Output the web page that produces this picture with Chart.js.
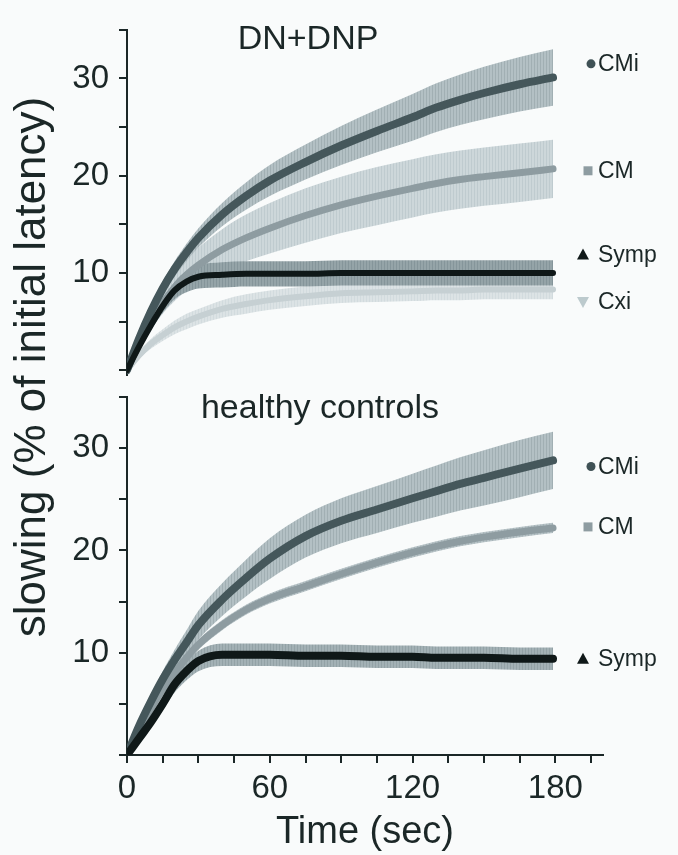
<!DOCTYPE html>
<html><head><meta charset="utf-8">
<script src="https://cdn.jsdelivr.net/npm/chart.js@4.4.1/dist/chart.umd.min.js"></script>
<style>
html,body{margin:0;padding:0;background:#f9fbfb;}
#wrap{position:relative;width:678px;height:855px;overflow:hidden;}
canvas{position:absolute;left:0;top:0;}
</style></head><body>
<div id="wrap"><canvas id="cTop" width="678" height="855"></canvas><canvas id="cBot" width="678" height="855"></canvas></div>
<script>
// ---------- data (seconds, % slowing) ----------
const time = [0,5,10,15,20,25,30,40,50,60,75,90,105,120,130,140,150,165,179];

// DN+DNP panel
const dnCMi    = [0,3.2,6.0,8.4,10.4,12.1,13.6,16.0,17.9,19.5,21.4,23.1,24.6,26.0,27.0,27.8,28.5,29.4,30.1];
const dnCMiSD  = [0,0.3,0.5,0.7,0.8,0.9,1.0,1.2,1.4,1.6,1.8,2.0,2.2,2.4,2.5,2.6,2.7,2.8,2.9];
const dnCM     = [0,2.7,5.0,6.9,8.5,9.8,10.8,12.4,13.6,14.6,15.9,17.0,17.9,18.7,19.2,19.6,19.9,20.3,20.7];
const dnCMSD   = [0,0.4,0.8,1.1,1.4,1.6,1.8,2.1,2.4,2.6,2.8,2.9,3.0,3.0,3.0,3.0,3.0,3.0,3.0];
const dnSymp   = [0,2.4,4.6,6.6,8.2,9.1,9.6,9.8,9.9,9.9,9.9,10.0,10.0,10.0,10.0,10.0,10.0,10.0,10.0];
const dnSympSD = [0,0.3,0.5,0.7,0.9,1.1,1.2,1.3,1.3,1.3,1.3,1.3,1.3,1.3,1.3,1.3,1.3,1.3,1.3];
const dnCxi    = [0,1.5,2.7,3.6,4.4,5.0,5.5,6.3,6.8,7.2,7.6,7.9,8.0,8.1,8.2,8.2,8.3,8.3,8.3];
const dnCxiSD  = [0,0.3,0.5,0.6,0.7,0.8,0.8,0.9,1.0,1.0,1.0,1.0,1.0,1.0,1.0,1.0,1.0,1.0,1.0];

// healthy controls panel
const hcCMi    = [0,2.8,5.2,7.4,9.3,11.0,12.7,15.2,17.3,19.2,21.4,22.9,24.0,25.1,25.8,26.5,27.1,28.0,28.8];
const hcCMiSD  = [0,0.3,0.6,0.8,1.0,1.2,1.4,1.6,1.8,2.0,2.1,2.2,2.3,2.4,2.5,2.6,2.7,2.8,2.8];
const hcCM     = [0,2.4,4.5,6.4,8.0,9.5,10.8,12.7,14.2,15.3,16.5,17.7,18.8,19.8,20.4,20.9,21.3,21.8,22.2];
const hcCMSD   = [0,0.2,0.3,0.4,0.4,0.5,0.5,0.5,0.5,0.5,0.5,0.5,0.5,0.5,0.5,0.5,0.5,0.5,0.5];
const hcSymp   = [0,1.6,3.2,5.0,6.9,8.2,9.2,9.8,9.8,9.8,9.7,9.7,9.6,9.6,9.5,9.5,9.5,9.4,9.4];
const hcSympSD = [0,0.2,0.4,0.6,0.8,0.9,1.0,1.1,1.1,1.1,1.1,1.1,1.1,1.1,1.1,1.1,1.1,1.1,1.1];

// axis ticks
const yTicks = [0,2.5,5,7.5,10,12.5,15,17.5,20,22.5,25,27.5,30,32.5,35];
const yLabels = [10,20,30];
const xTicks = [0,15,30,45,60,75,90,105,120,135,150,165,180,195];
const xLabels = [0,60,120,180];

// panel texts / legend entries
const topTitle = 'DN+DNP';
const botTitle = 'healthy controls';
const yTitle = 'slowing (% of initial latency)';
const xTitle = 'Time (sec)';
const topLegend = [
  {text:'CMi', at:31.5, marker:'circle'},
  {text:'CM', at:20.5, marker:'square'},
  {text:'Symp', at:11.9, marker:'triUp'},
  {text:'Cxi', at:7.0, marker:'triDown'}
];
const botLegend = [
  {text:'CMi', at:28.2, marker:'circle'},
  {text:'CM', at:22.3, marker:'square'},
  {text:'Symp', at:9.4, marker:'triUp'}
];

// ---------- styles ----------
const INK = '#1b2727';
const FONT = "'Liberation Sans', Arial, sans-serif";

function hatch(base, dark){
  const c = document.createElement('canvas');
  c.width = 3; c.height = 4;
  const g = c.getContext('2d');
  g.fillStyle = base; g.fillRect(0,0,3,4);
  g.fillStyle = dark; g.fillRect(0,0,1,4);
  return g.createPattern(c, 'repeat');
}

const ST = {
  CMi:  {line:'#45575b', band:hatch('#b3c0c4','#a1afb3'), w:8, bandOrder:20, lineOrder:3, mark:'#3f5155'},
  CM:   {line:'#8e9ca1', band:hatch('#cdd7da','#bfcbcf'), w:7, bandOrder:22, lineOrder:4, mark:'#8e9ca1'},
  CMh:  {line:'#8e9ca1', band:hatch('#b6c2c6','#a8b5b9'), w:7, bandOrder:22, lineOrder:4, mark:'#8e9ca1'},
  Symp: {line:'#0f1818', band:hatch('#95a4a8','#85959a'), w:6, bandOrder:16, lineOrder:1, mark:'#0f1818'},
  Symph:{line:'#0f1818', band:hatch('#a3b1b5','#93a2a6'), w:8, bandOrder:16, lineOrder:1, mark:'#0f1818'},
  Cxi:  {line:'#c6d0d3', band:hatch('#dce3e5','#d2dbde'), w:6, bandOrder:18, lineOrder:5, mark:'#bccacd'}
};

function addSeries(list, mean, sd, st){
  const pts = arr => time.map((t,i)=>({x:t, y:arr[i]}));
  const up = mean.map((m,i)=>m+sd[i]);
  const lo = mean.map((m,i)=>m-sd[i]);
  const loIdx = list.length + 1;
  const common = {pointRadius:0, cubicInterpolationMode:'monotone'};
  list.push(Object.assign({data:pts(up), borderWidth:0, borderColor:'rgba(0,0,0,0)', fill:loIdx, backgroundColor:st.band, order:st.bandOrder}, common));
  list.push(Object.assign({data:pts(lo), borderWidth:0, borderColor:'rgba(0,0,0,0)', fill:false, order:st.bandOrder+1}, common));
  list.push(Object.assign({data:pts(mean), borderColor:st.line, borderWidth:st.w, fill:false, order:st.lineOrder, borderCapStyle:'round', borderJoinStyle:'round'}, common));
}

function drawMarker(ctx, kind, x, y, color){
  ctx.fillStyle = color;
  ctx.beginPath();
  if(kind==='circle'){ ctx.arc(x, y, 4.5, 0, Math.PI*2); }
  else if(kind==='square'){ ctx.rect(x-4.5, y-4.5, 9, 9); }
  else if(kind==='triUp'){ ctx.moveTo(x, y-6); ctx.lineTo(x+6, y+5); ctx.lineTo(x-6, y+5); ctx.closePath(); }
  else { ctx.moveTo(x, y+6); ctx.lineTo(x+6, y-5); ctx.lineTo(x-6, y-5); ctx.closePath(); }
  ctx.fill();
}

const panelPlugin = {
  id:'panelText',
  afterDraw(chart, args, opts){
    const ctx = chart.ctx, ys = chart.scales.y, ca = chart.chartArea;
    ctx.save();
    ctx.fillStyle = INK;
    ctx.font = opts.titleFont + 'px ' + FONT;
    ctx.textAlign = 'center'; ctx.textBaseline = 'middle';
    ctx.fillText(opts.title, opts.titleX, opts.titleY);
    ctx.font = '23px ' + FONT;
    opts.legend.forEach(it=>{
      const y = ys.getPixelForValue(it.at);
      const st = ST[it.text];
      const mx = it.marker==='circle' ? ca.right-12 : (it.marker==='square' ? ca.right-15 : ca.right-20);
      drawMarker(ctx, it.marker, mx, y, st.mark);
      ctx.fillStyle = INK; ctx.textAlign = 'left';
      ctx.fillText(it.text, ca.right-5, y+1);
    });
    if(opts.yTitle){
      ctx.translate(33, 367);
      ctx.rotate(-Math.PI/2);
      ctx.textAlign = 'center';
      ctx.font = '44px ' + FONT;
      ctx.fillText(opts.yTitle, 0, 0);
    }
    ctx.restore();
  }
};

function yScale(min){
  return {
    type:'linear', min:min, max:35,
    afterBuildTicks: s => { s.ticks = yTicks.map(v=>({value:v})); },
    afterFit: s => { s.width = 127; },
    ticks:{ color:INK, font:{family:FONT, size:33}, padding:10,
            callback: v => yLabels.includes(v) ? String(v) : '' },
    grid:{ display:true, drawOnChartArea:false, drawTicks:true, tickLength:8, color:INK, lineWidth:2 },
    border:{ display:true, color:INK, width:2 }
  };
}

// ---------- top chart ----------
const topSets = [];
addSeries(topSets, dnCMi, dnCMiSD, ST.CMi);
addSeries(topSets, dnCM, dnCMSD, ST.CM);
addSeries(topSets, dnSymp, dnSympSD, ST.Symp);
addSeries(topSets, dnCxi, dnCxiSD, ST.Cxi);

new Chart(document.getElementById('cTop'), {
  type:'line',
  data:{datasets: topSets},
  options:{
    responsive:false, animation:false, devicePixelRatio:1,
    layout:{padding:{left:0, right:75, top:12, bottom:480}},
    scales:{
      x:{type:'linear', min:0, max:200, display:false},
      y: yScale(-0.5)
    },
    plugins:{
      legend:{display:false}, tooltip:{enabled:false},
      filler:{propagate:false},
      panelText:{title:topTitle, titleX:308, titleY:40, titleFont:34, legend:topLegend}
    }
  },
  plugins:[panelPlugin]
});

// ---------- bottom chart ----------
const botSets = [];
addSeries(botSets, hcCMi, hcCMiSD, ST.CMi);
addSeries(botSets, hcCM, hcCMSD, ST.CMh);
addSeries(botSets, hcSymp, hcSympSD, ST.Symph);

new Chart(document.getElementById('cBot'), {
  type:'line',
  data:{datasets: botSets},
  options:{
    responsive:false, animation:false, devicePixelRatio:1,
    layout:{padding:{left:0, right:75, top:397, bottom:0}},
    scales:{
      x:{
        type:'linear', min:0, max:200,
        afterBuildTicks: s => { s.ticks = xTicks.map(v=>({value:v})); },
        afterFit: s => { s.height = 100; },
        ticks:{ color:INK, font:{family:FONT, size:33}, padding:6, maxRotation:0, autoSkip:false,
                callback: v => xLabels.includes(v) ? String(v) : '' },
        grid:{ display:true, drawOnChartArea:false, drawTicks:true, tickLength:8, color:INK, lineWidth:2 },
        border:{ display:true, color:INK, width:2 },
        title:{ display:true, text:xTitle, color:INK, font:{family:FONT, size:38}, padding:{top:0, bottom:0} }
      },
      y: yScale(0)
    },
    plugins:{
      legend:{display:false}, tooltip:{enabled:false},
      filler:{propagate:false},
      panelText:{title:botTitle, titleX:320, titleY:409, titleFont:34, legend:botLegend, yTitle:yTitle}
    }
  },
  plugins:[panelPlugin]
});
</script>
</body></html>
